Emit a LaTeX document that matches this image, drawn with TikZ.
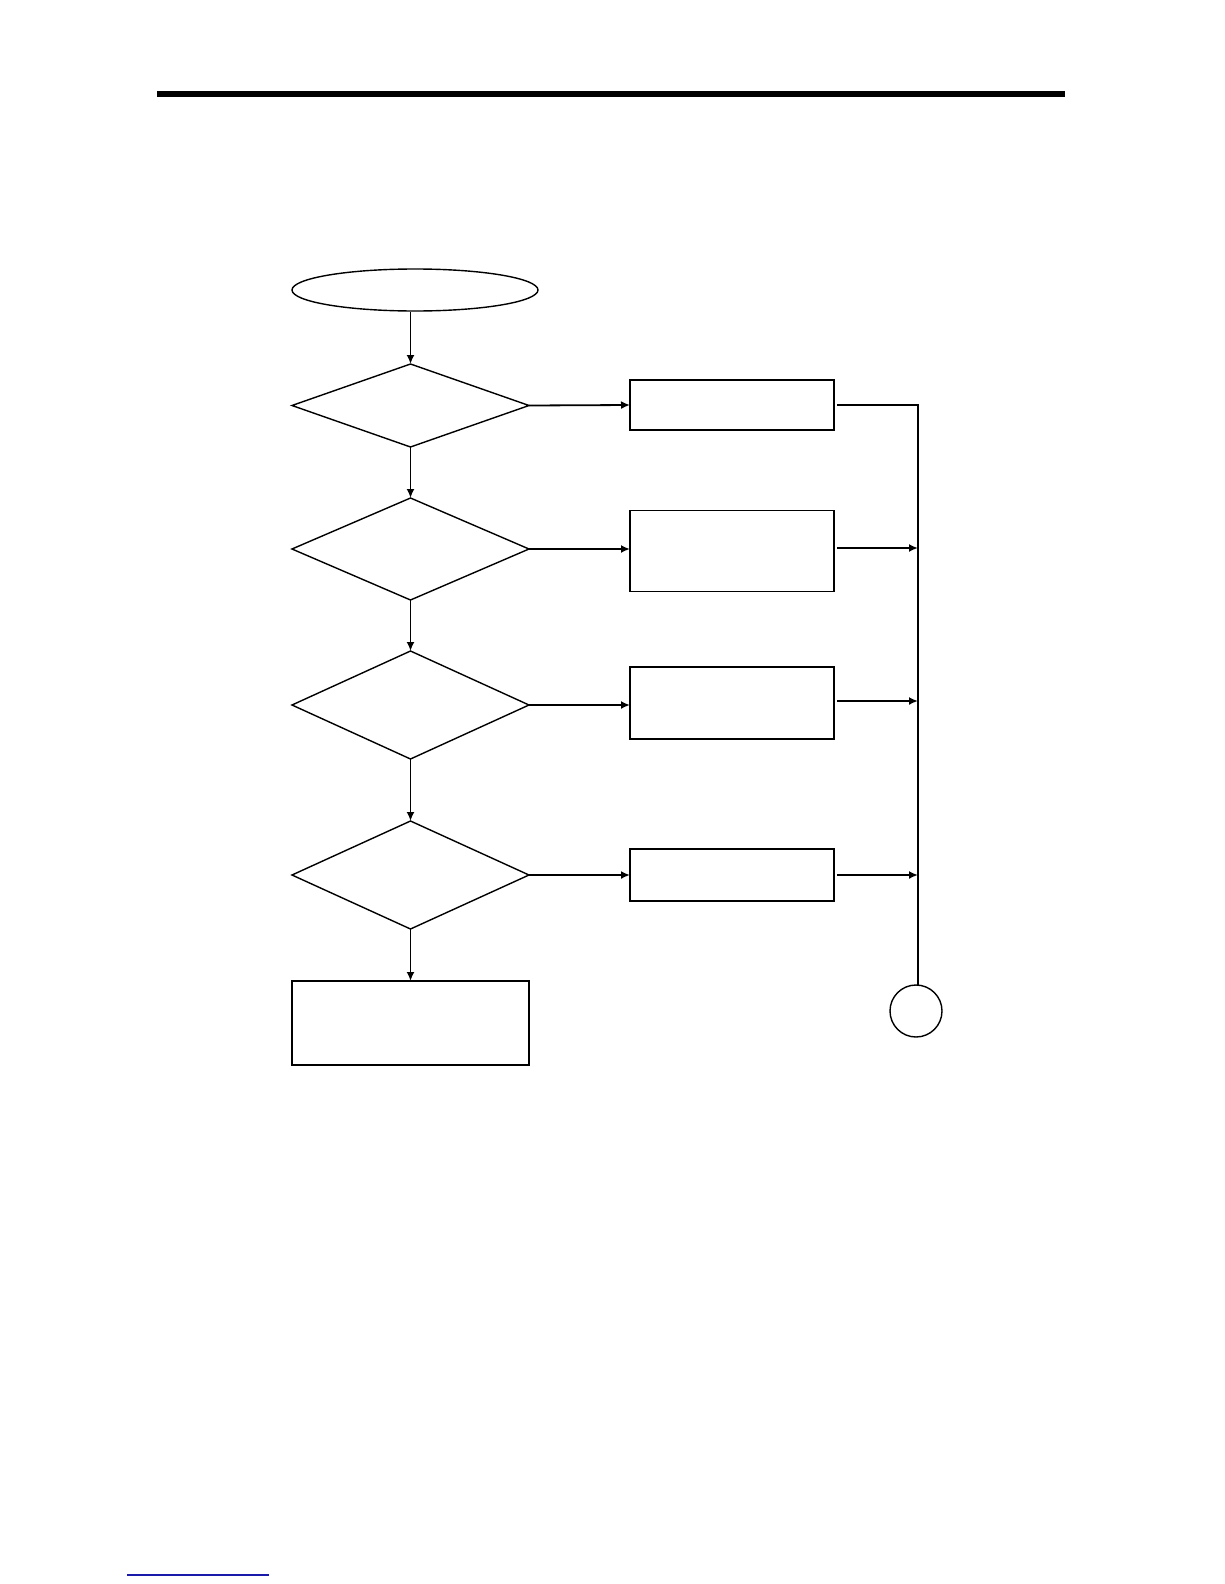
\documentclass[tikz,border=0pt]{standalone}
\usetikzlibrary{shapes.geometric,arrows.meta}
\begin{document}
\begin{tikzpicture}[x=1pt,y=-1pt,
  every node/.style={inner sep=0pt,outer sep=0pt},
  shp/.style={draw,line width=1.4pt},
  dec/.style={shp,diamond,minimum width=237pt},
  box/.style={shp,rectangle,minimum width=204pt},
  conn/.style={line width=1.8pt,-{Latex[length=9pt,width=8pt]}},
  plain/.style={line width=1.4pt}]
\useasboundingbox (0,0) rectangle (1224,1584);
\fill[black] (157,91) rectangle (1065,97);
\draw[line width=1.2pt,color={rgb,255:red,25;green,25;blue,170}] (127,1575) -- (269,1575);
\node[shp,ellipse,minimum width=246pt,minimum height=42pt] (start) at (415,290) {};
\node[dec,minimum height=83pt] (d1) at (410.5,405.5) {};
\node[dec,minimum height=102pt] (d2) at (410.5,549) {};
\node[dec,minimum height=108pt] (d3) at (410.5,705) {};
\node[dec,minimum height=108pt] (d4) at (410.5,875) {};
\node[box,minimum height=50pt] (r1) at (732,405) {};
\node[box,minimum height=81pt] (r2) at (732,551) {};
\node[box,minimum height=72pt] (r3) at (732,703) {};
\node[box,minimum height=52pt] (r4) at (732,875) {};
\node[shp,rectangle,minimum width=237pt,minimum height=84pt] (fin) at (410.5,1023) {};
\node[shp,circle,minimum size=52pt] (con) at (916,1011) {};
\coordinate (b1) at (918,405);
\coordinate (b2) at (918,548);
\coordinate (b3) at (918,701);
\coordinate (b4) at (918,875);
\draw[conn] (410.5,312) -- (d1.north);
\draw[conn] (d1.south) -- (d2.north);
\draw[conn] (d2.south) -- (d3.north);
\draw[conn] (d3.south) -- (d4.north);
\draw[conn] (d4.south) -- (fin.north);
\draw[conn] (d1.east) -- (r1.west);
\draw[conn] (d2.east) -- (r2.west|-d2.east);
\draw[conn] (d3.east) -- (r3.west|-d3.east);
\draw[conn] (d4.east) -- (r4.west);
\draw[plain] ([xshift=3pt]r1.east) -- (b1) -- (b1|-con.north);
\draw[conn] ([xshift=3pt]r2.east|-b2) -- (b2);
\draw[conn] ([xshift=3pt]r3.east|-b3) -- (b3);
\draw[conn] ([xshift=3pt]r4.east) -- (b4);
\end{tikzpicture}
\end{document}
